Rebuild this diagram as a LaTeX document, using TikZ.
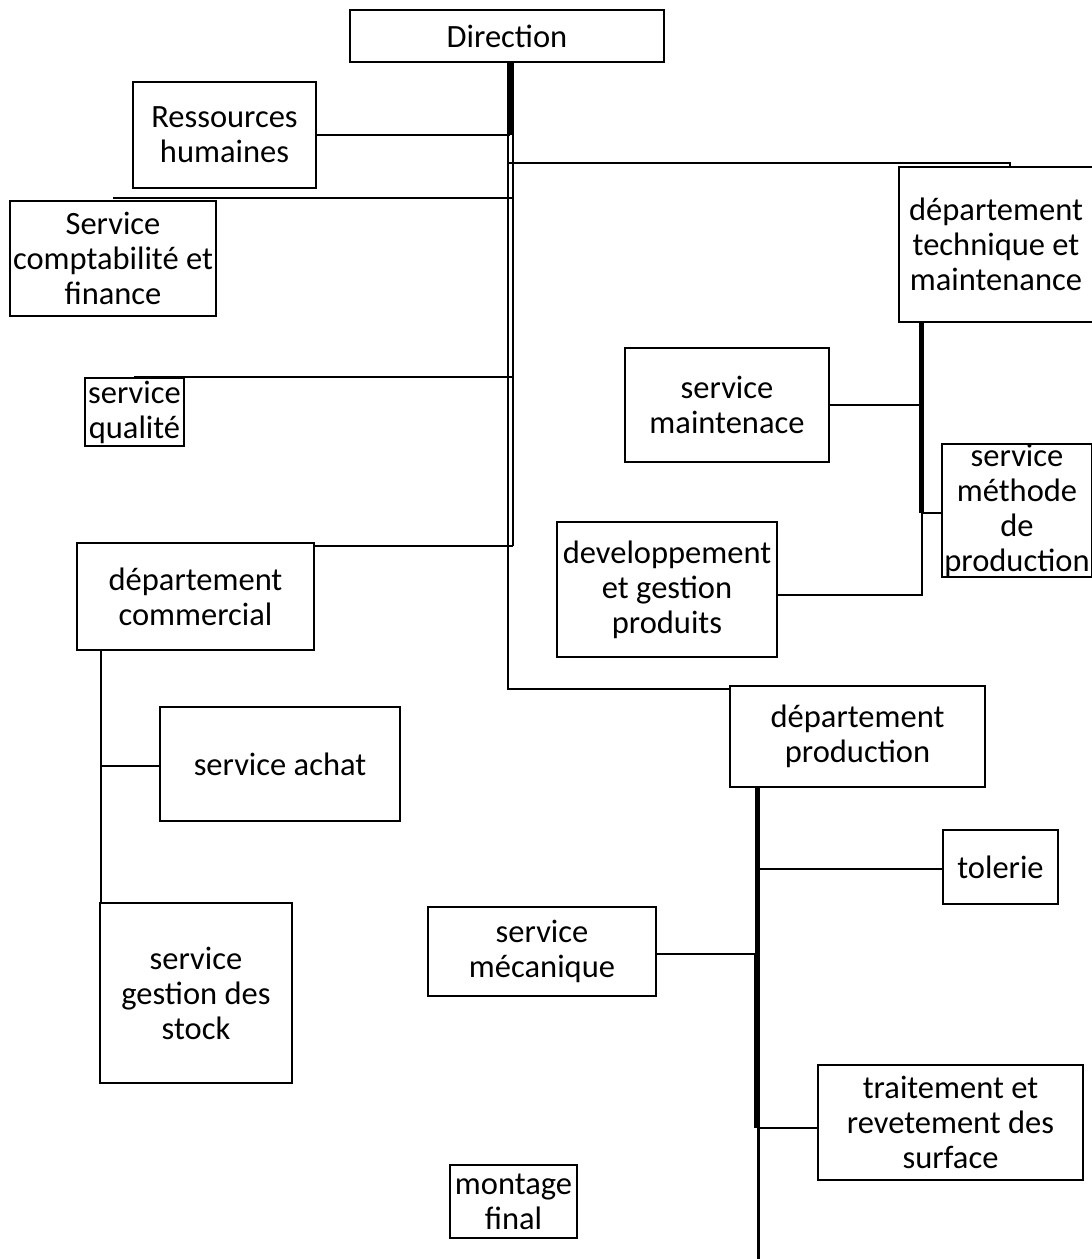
\documentclass[tikz,border=0pt]{standalone}
\usepackage{fontspec}
\setmainfont{Carlito}
\begin{document}
\begin{tikzpicture}[x=1pt,y=-1pt,
  box/.style={draw, line width=2.2pt, inner sep=0pt, align=center,
    font=\fontsize{32.5}{35}\selectfont},
  link/.style={line width=2.2pt},
  heavy/.style={line width=5pt}]
\useasboundingbox (0,0) rectangle (1092,1259);
\fill[white] (0,0) rectangle (1092,1259);

% boxes
\node[box, minimum width=314pt, minimum height=52pt] (dir) at (507,36) {Direction};
\node[box, minimum width=183pt, minimum height=106pt] (rh) at (224.5,135) {Ressources\\humaines};
\node[box, minimum width=206pt, minimum height=115pt] (compta) at (113,258.5) {Service\\comptabilité et\\finance};
\node[box, minimum width=99pt, minimum height=68pt] (qual) at (134.5,412) {service\\qualité};
\node[box, minimum width=237pt, minimum height=107pt] (comm) at (195.5,596.5) {département\\commercial};
\node[box, minimum width=240pt, minimum height=114pt] (achat) at (280,764) {service achat};
\node[box, minimum width=192pt, minimum height=180pt] (stock) at (196,993) {service\\gestion des\\stock};
\node[box, minimum width=194pt, minimum height=155pt] (tech) at (996,244.5) {département\\technique et\\maintenance};
\node[box, minimum width=204pt, minimum height=114pt] (maint) at (727,405) {service\\maintenace};
\node[box, minimum width=150pt, minimum height=133pt] (meth) at (1017,510.5) {service\\méthode\\de\\production};
\node[box, minimum width=220pt, minimum height=135pt] (dev) at (667,589.5) {developpement\\et gestion\\produits};
\node[box, minimum width=255pt, minimum height=101pt] (prod) at (857.5,736.5) {département\\production};
\node[box, minimum width=115pt, minimum height=74pt] (tol) at (1000.5,867) {tolerie};
\node[box, minimum width=228pt, minimum height=89pt] (meca) at (542,951.5) {service\\mécanique};
\node[box, minimum width=265pt, minimum height=115pt] (trait) at (950.5,1122.5) {traitement et\\revetement des\\surface};
\node[box, minimum width=127pt, minimum height=73pt] (mont) at (513.5,1201.5) {montage\\final};

% trunk lines below the direction
\coordinate (ta) at (508,62);
\coordinate (tb) at (513,62);
\draw[heavy] (510.5,62) -- (510.5,135);
\draw[link] (ta) -- (508,689) -- (prod.west |- 0,689);
\draw[link] (tb) -- (513,546);
\draw[link] (rh.east) -- (510,135);
\draw[link] (113,198) -- (513,198);
\draw[link] (134,377) -- (513,377);
\draw[link] (comm.east |- 0,546) -- (513,546);
\draw[link] (509,163) -- (1010,163) -- (tech.north -| 1010,0);

% technical department
\draw[heavy] (921,322) -- (921,513);
\draw[link] (922,322) -- (922,595) -- (dev.east |- 0,595);
\draw[link] (maint.east) -- (921,405);
\draw[link] (921,513) -- (meth.west |- 0,513);

% commercial department
\draw[link] (101,650) -- (101,903);
\draw[link] (101,766) -- (achat.west |- 0,766);

% production department
\draw[heavy] (757,787) -- (757,954);
\draw[link] (755.5,954) -- (755.5,1128);
\draw[link] (758.5,787) -- (758.5,1259);
\draw[link] (757,869) -- (tol.west |- 0,869);
\draw[link] (meca.east |- 0,954) -- (757,954);
\draw[link] (757,1128) -- (trait.west |- 0,1128);
\end{tikzpicture}
\end{document}
